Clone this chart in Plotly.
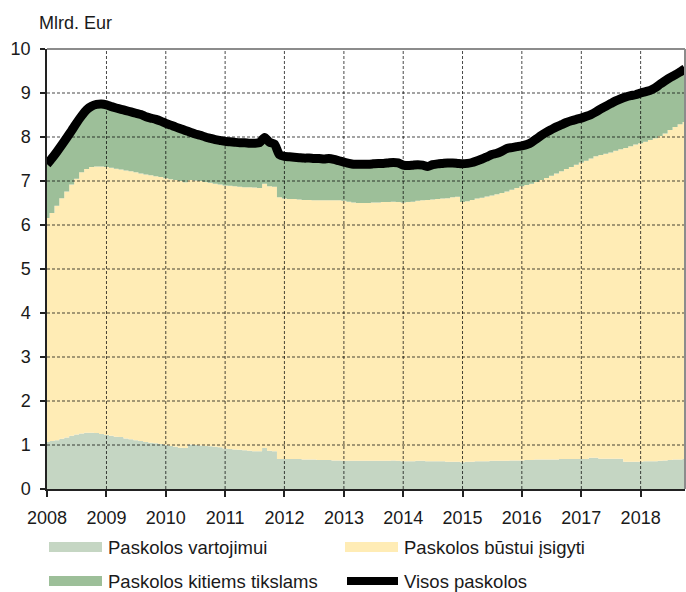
import pandas as pd
import plotly.graph_objects as go

# ---- data (billion EUR, monthly, Jan 2008 - Oct 2018) ----
start_month = "2008-01-01"

consumer = [
    1.07, 1.09, 1.11, 1.14, 1.17, 1.21, 1.24, 1.26, 1.28, 1.28, 1.27, 1.25,
    1.23, 1.21, 1.19, 1.18, 1.15, 1.13, 1.11, 1.09, 1.07, 1.05, 1.04, 1.02,
    1.00, 0.98, 0.96, 0.94, 0.93, 1.01, 1.00, 0.99, 0.98, 0.97, 0.96, 0.95,
    0.92, 0.91, 0.90, 0.89, 0.88, 0.87, 0.86, 0.86, 0.93, 0.87, 0.86, 0.68,
    0.68, 0.68, 0.68, 0.68, 0.67, 0.67, 0.67, 0.66, 0.66, 0.66, 0.65, 0.65,
    0.64, 0.64, 0.64, 0.64, 0.64, 0.64, 0.64, 0.64, 0.64, 0.64, 0.65, 0.64,
    0.63, 0.63, 0.63, 0.64, 0.64, 0.63, 0.63, 0.63, 0.63, 0.62, 0.62, 0.62,
    0.61, 0.62, 0.62, 0.63, 0.63, 0.63, 0.64, 0.64, 0.64, 0.64, 0.65, 0.65,
    0.65, 0.66, 0.66, 0.67, 0.67, 0.67, 0.67, 0.67, 0.68, 0.68, 0.68, 0.68,
    0.68, 0.68, 0.71, 0.71, 0.69, 0.69, 0.69, 0.69, 0.69, 0.62, 0.62, 0.62,
    0.62, 0.63, 0.63, 0.63, 0.64, 0.65, 0.66, 0.67, 0.67, 0.68,
]

housing = [
    5.09, 5.18, 5.33, 5.47, 5.59, 5.71, 5.81, 5.94, 5.99, 6.04, 6.06, 6.08,
    6.09, 6.09, 6.09, 6.08, 6.09, 6.09, 6.09, 6.08, 6.08, 6.08, 6.07, 6.07,
    6.06, 6.06, 6.06, 6.06, 6.04, 6.01, 6.01, 6.01, 6.00, 5.99, 5.98, 5.97,
    5.98, 5.98, 5.98, 5.98, 5.98, 5.99, 5.99, 5.98, 6.01, 6.01, 6.01, 5.95,
    5.92, 5.91, 5.91, 5.90, 5.90, 5.90, 5.89, 5.90, 5.90, 5.90, 5.91, 5.91,
    5.91, 5.89, 5.87, 5.86, 5.86, 5.86, 5.87, 5.87, 5.88, 5.88, 5.88, 5.88,
    5.88, 5.89, 5.90, 5.91, 5.92, 5.94, 5.95, 5.96, 5.97, 5.99, 6.01, 6.02,
    5.91, 5.92, 5.95, 5.97, 5.99, 6.02, 6.03, 6.06, 6.09, 6.12, 6.15, 6.19,
    6.23, 6.25, 6.28, 6.31, 6.35, 6.40, 6.45, 6.50, 6.54, 6.59, 6.64, 6.69,
    6.74, 6.78, 6.80, 6.85, 6.90, 6.93, 6.96, 7.00, 7.03, 7.13, 7.17, 7.21,
    7.24, 7.26, 7.30, 7.34, 7.38, 7.43, 7.50, 7.56, 7.62, 7.66,
]

other = [
    1.22, 1.25, 1.22, 1.21, 1.22, 1.23, 1.27, 1.28, 1.35, 1.38, 1.41, 1.42,
    1.41, 1.39, 1.38, 1.37, 1.36, 1.35, 1.34, 1.34, 1.31, 1.30, 1.29, 1.27,
    1.25, 1.23, 1.21, 1.19, 1.18, 1.09, 1.06, 1.04, 1.02, 1.01, 1.00, 1.00,
    1.00, 1.00, 1.00, 1.00, 1.01, 1.00, 1.01, 1.03, 1.05, 1.00, 0.97, 0.97,
    0.96, 0.96, 0.95, 0.95, 0.95, 0.95, 0.95, 0.95, 0.94, 0.95, 0.93, 0.90,
    0.88, 0.87, 0.87, 0.88, 0.88, 0.88, 0.88, 0.89, 0.88, 0.89, 0.89, 0.89,
    0.85, 0.83, 0.83, 0.82, 0.80, 0.76, 0.79, 0.80, 0.80, 0.80, 0.78, 0.76,
    0.87, 0.86, 0.85, 0.86, 0.88, 0.90, 0.93, 0.93, 0.95, 0.98, 0.96, 0.94,
    0.92, 0.92, 0.94, 0.98, 1.02, 1.04, 1.05, 1.06, 1.06, 1.06, 1.05, 1.03,
    1.01, 1.01, 1.00, 1.01, 1.05, 1.08, 1.11, 1.13, 1.15, 1.16, 1.15, 1.13,
    1.14, 1.14, 1.13, 1.15, 1.18, 1.20, 1.19, 1.18, 1.19, 1.21,
]

total = [
    7.38, 7.52, 7.66, 7.82, 7.98, 8.15, 8.32, 8.48, 8.62, 8.70, 8.74, 8.75,
    8.73, 8.69, 8.66, 8.63, 8.60, 8.57, 8.54, 8.51, 8.46, 8.43, 8.40, 8.36,
    8.31, 8.27, 8.23, 8.19, 8.15, 8.11, 8.07, 8.04, 8.00, 7.97, 7.94, 7.92,
    7.90, 7.89, 7.88, 7.87, 7.87, 7.86, 7.86, 7.87, 7.99, 7.88, 7.84, 7.60,
    7.56, 7.55, 7.54, 7.53, 7.52, 7.52, 7.51, 7.51, 7.50, 7.51, 7.49, 7.46,
    7.43, 7.40, 7.38, 7.38, 7.38, 7.38, 7.39, 7.40, 7.40, 7.41, 7.42, 7.41,
    7.36, 7.35, 7.36, 7.37, 7.36, 7.33, 7.37, 7.39, 7.40, 7.41, 7.41, 7.40,
    7.39, 7.40, 7.42, 7.46, 7.50, 7.55, 7.60, 7.63, 7.68, 7.74, 7.76, 7.78,
    7.80, 7.83, 7.88, 7.96, 8.04, 8.11, 8.17, 8.23, 8.28, 8.33, 8.37, 8.40,
    8.43, 8.47, 8.51, 8.57, 8.64, 8.70, 8.76, 8.82, 8.87, 8.91, 8.94, 8.96,
    9.00, 9.03, 9.06, 9.12, 9.20, 9.28, 9.35, 9.41, 9.48, 9.55,
]

year_labels = ["2008", "2009", "2010", "2011", "2012", "2013",
               "2014", "2015", "2016", "2017", "2018"]
y_ticks = [0, 1, 2, 3, 4, 5, 6, 7, 8, 9, 10]

series_names = ["Paskolos vartojimui", "Paskolos būstui įsigyti",
                "Paskolos kitiems tikslams", "Visos paskolos"]
y_unit = "Mlrd. Eur"

# ---- styles ----
C_CONS = "#C5D6C3"
C_HOUS = "#FFECB5"
C_OTHER = "#9DBF99"
C_TOTAL = "#000000"
FONT = "Liberation Sans, Arial, sans-serif"
TXT = "#1a1a1a"

months = pd.date_range(start_month, periods=len(consumer), freq="MS")
x_end = months[-1]
year_vals = [pd.Timestamp(f"{y}-01-01") for y in year_labels]

fig = go.Figure()
for name, vals, col in [(series_names[0], consumer, C_CONS),
                        (series_names[1], housing, C_HOUS),
                        (series_names[2], other, C_OTHER)]:
    fig.add_trace(go.Scatter(
        x=months, y=vals, name=name, stackgroup="loans",
        mode="lines", line=dict(width=0, shape="hvh", color=col),
        fillcolor=col, showlegend=False, hoverinfo="skip"))

fig.add_trace(go.Scatter(
    x=months, y=total, name=series_names[3], mode="lines",
    line=dict(color=C_TOTAL, width=9, shape="spline", smoothing=0.6),
    showlegend=False))

shapes = []
# dashed grid drawn on top of the areas
grid_style = dict(color="rgba(0,0,0,0.72)", width=1, dash="3px,2px")
for yv in y_ticks[1:-1]:
    shapes.append(dict(type="line", xref="paper", yref="y", x0=0, x1=1,
                       y0=yv, y1=yv, line=grid_style, layer="above"))
for xv in year_vals[1:]:
    shapes.append(dict(type="line", xref="x", yref="paper", x0=xv, x1=xv,
                       y0=0, y1=1, line=grid_style, layer="above"))
# top / right frame (grey)
frame = dict(color="#8c8c8c", width=2)
shapes.append(dict(type="line", xref="paper", yref="paper", x0=0, x1=1,
                   y0=1, y1=1, line=frame, layer="above"))
shapes.append(dict(type="line", xref="paper", yref="paper", x0=1, x1=1,
                   y0=0, y1=1, line=frame, layer="above"))

# ---- manual legend (two rows, two columns) ----
W, H, L, T, B = 686, 592, 47, 49, 103
pw, ph = W - L - 1, H - T - B


def px(xpix):
    return (xpix - L) / pw


def py(ypix):
    return (H - B - ypix) / ph


legend_items = [
    (series_names[0], "rect", C_CONS, 49, 547),
    (series_names[1], "rect", C_HOUS, 345, 547),
    (series_names[2], "rect", C_OTHER, 49, 581),
    (series_names[3], "line", C_TOTAL, 345, 581),
]
annotations = []
for name, kind, col, xs, yc in legend_items:
    if kind == "rect":
        shapes.append(dict(type="rect", xref="paper", yref="paper",
                           x0=px(xs), x1=px(xs + 53), y0=py(yc - 5), y1=py(yc + 5),
                           fillcolor=col, line=dict(width=0)))
    else:
        shapes.append(dict(type="line", xref="paper", yref="paper",
                           x0=px(xs + 2), x1=px(xs + 53), y0=py(yc), y1=py(yc),
                           line=dict(color=col, width=8)))
    annotations.append(dict(text=name, xref="paper", yref="paper",
                            x=px(xs + 57), y=py(yc), xanchor="left",
                            yanchor="middle", showarrow=False,
                            font=dict(size=18.5, color=TXT, family=FONT)))

annotations.append(dict(text=y_unit, xref="paper", yref="paper",
                        x=px(37), y=py(23), xanchor="left", yanchor="middle",
                        showarrow=False, font=dict(size=18, color=TXT, family=FONT)))

fig.update_layout(
    width=W, height=H,
    margin=dict(l=L, r=1, t=T, b=B, pad=0),
    paper_bgcolor="white", plot_bgcolor="white",
    font=dict(family=FONT, size=18, color=TXT),
    shapes=shapes, annotations=annotations,
    showlegend=False,
    hovermode=False,
)
fig.update_xaxes(
    type="date", range=[months[0], x_end],
    tickvals=year_vals, ticktext=year_labels,
    showgrid=False, zeroline=False,
    showline=True, linecolor="#222", linewidth=1.5,
    ticks="outside", ticklen=6, tickcolor="#222", tickwidth=1.5,
    ticklabelstandoff=6, tickfont=dict(size=18, color=TXT),
)
fig.update_yaxes(
    range=[0, 10], tickvals=y_ticks, ticktext=[str(v) for v in y_ticks],
    showgrid=False, zeroline=False,
    showline=True, linecolor="#222", linewidth=1.5,
    ticks="outside", ticklen=5, tickcolor="#222", tickwidth=1.5,
    ticklabelstandoff=6, tickfont=dict(size=18, color=TXT),
)

fig.write_html("out.html", config={"displayModeBar": False},
               post_script="document.body.style.margin='0';")
